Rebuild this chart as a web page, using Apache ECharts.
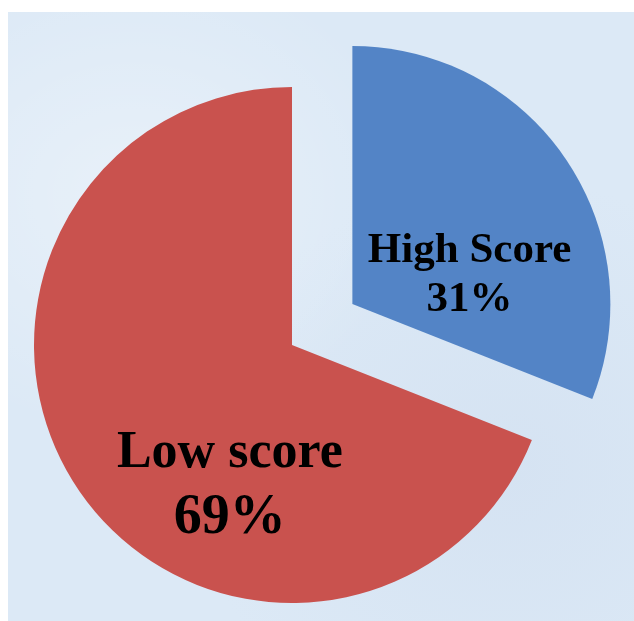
<!DOCTYPE html>
<html>
<head>
<meta charset="utf-8">
<script src="https://cdn.jsdelivr.net/npm/echarts@6/dist/echarts.min.js"></script>
<style>
  html, body { margin: 0; padding: 0; background: #fff; }
  #wrap { position: relative; width: 634px; height: 621px; }
  #panel {
    position: absolute; left: 8px; top: 12px; right: 0; bottom: 0;
    background-color: #dce9f6;
    background-image:
      radial-gradient(ellipse at 20% 30%, rgba(255,255,255,0.35), rgba(255,255,255,0) 40%),
      radial-gradient(ellipse at 80% 75%, rgba(200,215,235,0.35), rgba(200,215,235,0) 45%);
  }
  #main { position: absolute; left: 0; top: 0; width: 634px; height: 621px; }
</style>
</head>
<body>
<div id="wrap">
  <div id="panel"></div>
  <div id="main"></div>
</div>
<script>
// data
var categories = ['High Score', 'Low score'];
var percents = [31, 69];
var colors = ['#5384c6', '#c9524e'];

var chart = echarts.init(document.getElementById('main'));

var pieData = categories.map(function (name, i) {
  return {
    name: name,
    value: percents[i],
    selected: i === 0,
    itemStyle: { color: colors[i] }
  };
});

var option = {
  animation: false,
  series: [
    {
      type: 'pie',
      center: [292, 345],
      radius: 258,
      startAngle: 90,
      clockwise: true,
      selectedMode: 'single',
      selectedOffset: 73,
      data: pieData,
      emphasis: { disabled: true },
      label: {
        show: true,
        position: 'inside',
        formatter: function (p) {
          if (p.dataIndex === 0) return '{a|' + p.name + '}\n{a|' + p.value + '%}';
          return '{b|' + p.name + '}\n{c|' + p.value + '%}';
        },
        rich: {
          a: { fontFamily: 'Liberation Serif', fontWeight: 'bold', fontSize: 43, color: '#000', lineHeight: 49, align: 'center' },
          b: { fontFamily: 'Liberation Serif', fontWeight: 'bold', fontSize: 52, color: '#000', lineHeight: 64, align: 'center' },
          c: { fontFamily: 'Liberation Serif', fontWeight: 'bold', fontSize: 56, color: '#000', lineHeight: 66, align: 'center' }
        }
      },
      labelLine: { show: false },
      labelLayout: function (p) {
        if (p.dataIndex === 0) return { dx: 8, dy: 46 };
        return { dx: 47, dy: 67 };
      }
    }
  ]
};

chart.setOption(option);
</script>
</body>
</html>
